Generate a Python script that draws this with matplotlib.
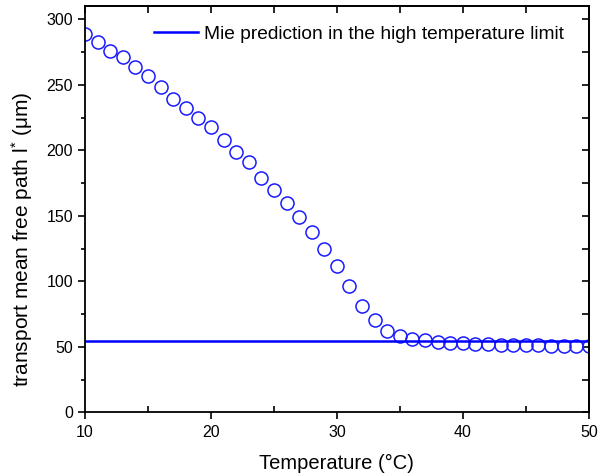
import numpy as np
import matplotlib
matplotlib.use("Agg")
import matplotlib.pyplot as plt
from matplotlib.ticker import MultipleLocator

plt.rcParams['font.family'] = ['Liberation Sans', 'DejaVu Sans']
plt.rcParams['mathtext.fontset'] = 'custom'
plt.rcParams['mathtext.rm'] = 'Liberation Sans'
plt.rcParams['mathtext.it'] = 'Liberation Sans'

# temperature in degC and measured l* in um
temperature = list(range(10, 51))
l_star = [288.5, 283.0, 275.5, 271.0, 263.5, 257.0, 248.0, 239.5, 232.0, 225.0,
          218.0, 207.5, 199.0, 191.0, 179.0, 170.0, 160.0, 149.3, 137.3, 125.0,
          111.8, 96.8, 81.0, 70.7, 62.3, 58.6, 56.3, 55.1, 54.0, 53.3,
          52.8, 52.3, 52.0, 51.7, 51.5, 51.3, 51.2, 51.0, 50.8, 50.7, 50.3]
mie_limit = 54.3

fig = plt.figure(figsize=(6.07, 4.74), dpi=100)
ax = fig.add_axes([0.140, 0.130, 0.830, 0.857])

blue = '#1a1aff'
ax.plot(temperature, l_star, 'o', mfc='none', mec=blue, ms=9.4, mew=1.1)
ax.axhline(mie_limit, color='#0000ff', lw=1.8,
           label='Mie prediction in the high temperature limit')

ax.set_xlim(10, 50)
ax.set_ylim(0, 310)
ax.xaxis.set_major_locator(MultipleLocator(10))
ax.xaxis.set_minor_locator(MultipleLocator(5))
ax.yaxis.set_major_locator(MultipleLocator(50))
ax.yaxis.set_minor_locator(MultipleLocator(25))

ax.tick_params(axis='x', which='major', direction='out', length=5, width=1.2, labelsize=11.5, pad=4)
ax.tick_params(axis='x', which='minor', direction='in', length=4, width=1.2)
ax.tick_params(axis='y', which='major', direction='out', length=5, width=1.2, labelsize=11.5)
ax.tick_params(axis='y', which='minor', direction='out', length=3, width=1.2)

# top and right axes carry inward ticks only
top = ax.secondary_xaxis('top')
top.xaxis.set_major_locator(MultipleLocator(5))
top.tick_params(direction='in', length=5, width=1.2, labeltop=False)
right = ax.secondary_yaxis('right')
right.yaxis.set_major_locator(MultipleLocator(25))
right.tick_params(direction='in', length=5, width=1.2, labelright=False)

for s in ax.spines.values():
    s.set_linewidth(1.3)
top.spines['top'].set_linewidth(1.3)
right.spines['right'].set_linewidth(1.3)

ax.set_xlabel('Temperature (°C)', fontsize=14.5, labelpad=10)
ax.set_ylabel('transport mean free path l$^{*}$ (μm)', fontsize=15)
ax.yaxis.set_label_coords(-0.100, 0.425)

ax.legend(loc='center right', bbox_to_anchor=(573 / 607, 1 - 34 / 474),
          bbox_transform=fig.transFigure, frameon=False, fontsize=13.8,
          handlelength=2.3, handletextpad=0.3, borderpad=0)

fig.savefig('out.png', dpi=100)
